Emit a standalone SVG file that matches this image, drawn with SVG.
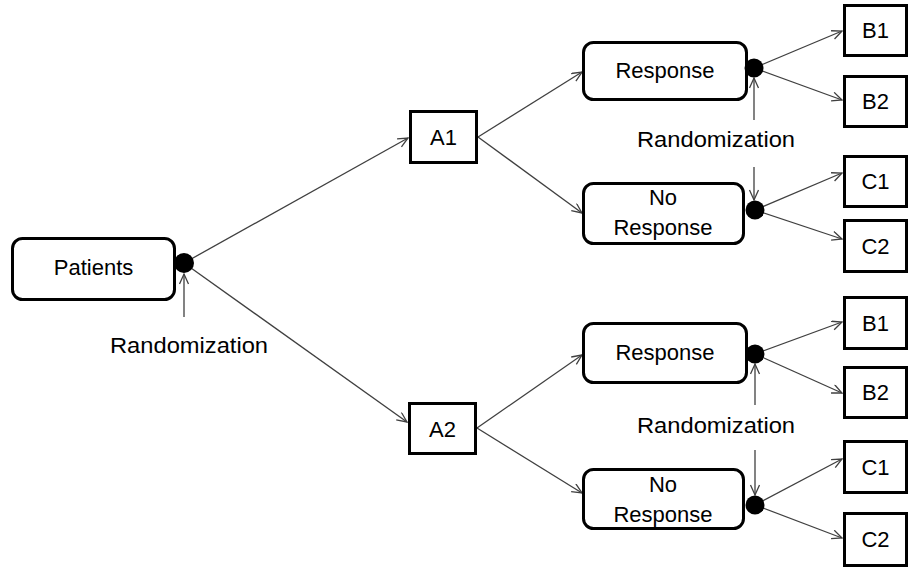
<svg xmlns="http://www.w3.org/2000/svg" width="910" height="571" viewBox="0 0 910 571">
  <style>
    .box { fill: #ffffff; stroke: #000000; stroke-width: 3; }
    .lbl { font-family: "Liberation Sans", Arial, sans-serif; font-size: 22px; fill: #000000; text-anchor: middle; }
    .edge { stroke: #404040; stroke-width: 1.3; fill: none; marker-end: url(#open); }
    .dot { fill: #000000; }
  </style>
  <defs>
    <marker id="open" markerUnits="userSpaceOnUse" markerWidth="14" markerHeight="12" refX="11" refY="5" orient="auto">
      <path d="M1,0.5 L11,5 L1,9.5" fill="none" stroke="#404040" stroke-width="1.3"/>
    </marker>
  </defs>

  <rect width="910" height="571" fill="#ffffff"/>

  <!-- connectors -->
  <g id="connectors">
    <line class="edge" x1="184" y1="263" x2="408" y2="138"/>
    <line class="edge" x1="184" y1="263" x2="407" y2="422"/>
    <line class="edge" x1="184" y1="317" x2="184" y2="274"/>

    <line class="edge" x1="478" y1="137" x2="582" y2="72"/>
    <line class="edge" x1="478" y1="137" x2="582" y2="213"/>
    <line class="edge" x1="477" y1="428" x2="582" y2="355"/>
    <line class="edge" x1="477" y1="428" x2="582" y2="493"/>

    <line class="edge" x1="754" y1="68" x2="842" y2="31"/>
    <line class="edge" x1="754" y1="68" x2="842" y2="100"/>
    <line class="edge" x1="754" y1="120" x2="754" y2="78"/>
    <line class="edge" x1="754" y1="167" x2="754" y2="200"/>
    <line class="edge" x1="755" y1="210" x2="842" y2="173"/>
    <line class="edge" x1="755" y1="210" x2="842" y2="239"/>

    <line class="edge" x1="755" y1="354" x2="842" y2="322"/>
    <line class="edge" x1="755" y1="354" x2="842" y2="393"/>
    <line class="edge" x1="755" y1="405" x2="755" y2="364"/>
    <line class="edge" x1="755" y1="450" x2="755" y2="495"/>
    <line class="edge" x1="755" y1="505" x2="842" y2="459"/>
    <line class="edge" x1="755" y1="505" x2="842" y2="538"/>
  </g>

  <!-- nodes -->
  <g id="patients">
    <rect class="box" x="12.5" y="238.5" width="162" height="61" rx="10"/>
    <text class="lbl" x="93.5" y="275">Patients</text>
  </g>
  <g id="a1">
    <rect class="box" x="410.5" y="111.5" width="66" height="51"/>
    <text class="lbl" x="443.5" y="145">A1</text>
  </g>
  <g id="a2">
    <rect class="box" x="409.5" y="403.5" width="66" height="50"/>
    <text class="lbl" x="442.5" y="437">A2</text>
  </g>

  <g id="a1-response">
    <rect class="box" x="583.5" y="42.5" width="163" height="57" rx="10"/>
    <text class="lbl" x="665" y="78">Response</text>
  </g>
  <g id="a1-no-response">
    <rect class="box" x="583.5" y="183.5" width="160" height="60" rx="10"/>
    <text class="lbl" x="663" y="205">No</text>
    <text class="lbl" x="663" y="235">Response</text>
  </g>
  <g id="a2-response">
    <rect class="box" x="583.5" y="323.5" width="163" height="59" rx="10"/>
    <text class="lbl" x="665" y="360">Response</text>
  </g>
  <g id="a2-no-response">
    <rect class="box" x="583.5" y="469.5" width="160" height="59" rx="10"/>
    <text class="lbl" x="663" y="492">No</text>
    <text class="lbl" x="663" y="522">Response</text>
  </g>

  <g id="a1-b1">
    <rect class="box" x="844.5" y="5.5" width="62" height="50"/>
    <text class="lbl" x="875.5" y="38">B1</text>
  </g>
  <g id="a1-b2">
    <rect class="box" x="844.5" y="76.5" width="62" height="50"/>
    <text class="lbl" x="875.5" y="109">B2</text>
  </g>
  <g id="a1-c1">
    <rect class="box" x="844.5" y="156.5" width="62" height="50"/>
    <text class="lbl" x="875.5" y="189">C1</text>
  </g>
  <g id="a1-c2">
    <rect class="box" x="844.5" y="220.5" width="62" height="51"/>
    <text class="lbl" x="875.5" y="253.5">C2</text>
  </g>
  <g id="a2-b1">
    <rect class="box" x="844.5" y="297.5" width="62" height="51"/>
    <text class="lbl" x="875.5" y="330.5">B1</text>
  </g>
  <g id="a2-b2">
    <rect class="box" x="844.5" y="367.5" width="62" height="50"/>
    <text class="lbl" x="875.5" y="400">B2</text>
  </g>
  <g id="a2-c1">
    <rect class="box" x="844.5" y="441.5" width="62" height="51"/>
    <text class="lbl" x="875.5" y="474.5">C1</text>
  </g>
  <g id="a2-c2">
    <rect class="box" x="844.5" y="513.5" width="62" height="52"/>
    <text class="lbl" x="875.5" y="547">C2</text>
  </g>

  <!-- randomization points -->
  <g id="junctions">
    <circle class="dot" cx="184" cy="263" r="10"/>
    <circle class="dot" cx="754" cy="68" r="9.5"/>
    <circle class="dot" cx="755" cy="210" r="9.5"/>
    <circle class="dot" cx="755" cy="354" r="9.5"/>
    <circle class="dot" cx="755" cy="505" r="9.5"/>
  </g>

  <g id="randomization-labels">
    <text class="lbl" x="189" y="353" textLength="158" lengthAdjust="spacingAndGlyphs">Randomization</text>
    <text class="lbl" x="716" y="147" textLength="158" lengthAdjust="spacingAndGlyphs">Randomization</text>
    <text class="lbl" x="716" y="433" textLength="158" lengthAdjust="spacingAndGlyphs">Randomization</text>
  </g>
</svg>
